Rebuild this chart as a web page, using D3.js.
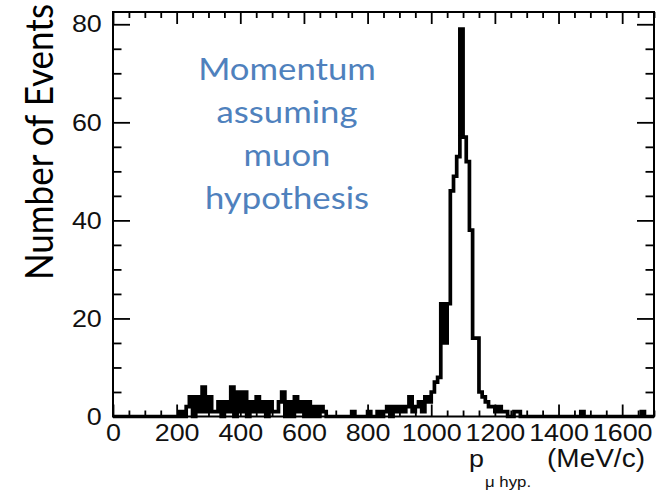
<!DOCTYPE html>
<html><head><meta charset="utf-8">
<script src="https://cdn.jsdelivr.net/npm/d3@7"></script>
<style>body{margin:0;background:#fff}</style>
</head><body>
<svg id="c" width="661" height="491"></svg>
<script>
// ---- data ----
const binWidth = 10; // MeV/c per bin
const binLowEdges = d3.range(0, 1700, binWidth);
const counts = [
  0,0,0,0,0,0,0,0,0,0,          // 0-90
  0,0,0,0,0,0,0,0,0,0,          // 100-190
  0,1,0,2,4,0,4,1,6,1,          // 200-290
  4,1,1,3,0,3,1,6,0,5,          // 300-390
  1,5,0,3,1,4,1,3,0,3,          // 400-490
  1,1,3,5,0,3,0,4,1,3,          // 500-590
  0,3,0,2,0,2,1,0,0,0,          // 600-690
  0,0,0,0,0,1,0,0,0,0,          // 700-790
  1,0,0,1,0,1,2,0,2,1,          // 800-890
  2,1,2,4,1,2,3,1,4,3,          // 900-990
  5,7,8,23,15,23,46,49,53,79,   // 1000-1090
  57,52,38,16,16,5,4,3,2,2,     // 1100-1190
  1,2,1,1,0,0,1,1,0,0,          // 1200-1290
  0,0,0,0,0,0,0,0,0,0,          // 1300-1390
  0,0,0,0,0,0,0,1,0,0,          // 1400-1490
  0,0,0,0,0,0,0,0,0,0,          // 1500-1590
  0,0,0,0,0,0,1,0,0,0           // 1600-1690
];
const xMajorTicks = [0,200,400,600,800,1000,1200,1400,1600];
const yMajorTicks = [0,20,40,60,80];
const yTitle = "Number of Events";
const annotationLines = ["Momentum","assuming","muon","hypothesis"];

// ---- layout ----
const svg = d3.select("#c");
const L = 113, R = 654, T = 12, B = 416.5;
const SX = 1.12; // horizontal stretch of the original picture
const x = d3.scaleLinear().domain([0,1700]).range([L,R]);
const y = d3.scaleLinear().domain([0,82.5]).range([B,T]);
const xMinor = d3.range(0,1701,50).filter(v => v % 200 !== 0);
const yMinor = d3.range(0,83,5).filter(v => v % 20 !== 0);
const tickFont = "'Liberation Sans', Arial, Helvetica, sans-serif";

function styleAxis(g){
  g.select(".domain").remove();
  g.selectAll(".tick line").attr("stroke","#000").attr("stroke-width",1.8);
}

// bottom axis
const gB = svg.append("g").attr("transform",`translate(0,${B})`)
  .call(d3.axisBottom(x).tickValues(xMajorTicks).tickSizeInner(-12).tickSizeOuter(0).tickPadding(7.5).tickFormat(d3.format("d")));
styleAxis(gB);
gB.selectAll("text").attr("font-family",tickFont).attr("font-size",24).attr("fill","#111")
  .attr("transform",`scale(${SX},1)`);
svg.append("g").attr("transform",`translate(0,${B})`)
  .call(d3.axisBottom(x).tickValues(xMinor).tickSizeInner(-6).tickSizeOuter(0).tickFormat("")).call(styleAxis);
// top axis
svg.append("g").attr("transform",`translate(0,${T})`)
  .call(d3.axisTop(x).tickValues(xMajorTicks).tickSizeInner(-12).tickSizeOuter(0).tickFormat("")).call(styleAxis);
svg.append("g").attr("transform",`translate(0,${T})`)
  .call(d3.axisTop(x).tickValues(xMinor).tickSizeInner(-6).tickSizeOuter(0).tickFormat("")).call(styleAxis);
// left axis
const gL = svg.append("g").attr("transform",`translate(${L},0)`)
  .call(d3.axisLeft(y).tickValues(yMajorTicks).tickSizeInner(-17).tickSizeOuter(0).tickPadding(10).tickFormat(d3.format("d")));
styleAxis(gL);
gL.selectAll("text").attr("font-family",tickFont).attr("font-size",24).attr("fill","#111")
  .attr("transform",`scale(${SX},1)`);
svg.append("g").attr("transform",`translate(${L},0)`)
  .call(d3.axisLeft(y).tickValues(yMinor).tickSizeInner(-8.5).tickSizeOuter(0).tickFormat("")).call(styleAxis);
// right axis
svg.append("g").attr("transform",`translate(${R},0)`)
  .call(d3.axisRight(y).tickValues(yMajorTicks).tickSizeInner(-17).tickSizeOuter(0).tickFormat("")).call(styleAxis);
svg.append("g").attr("transform",`translate(${R},0)`)
  .call(d3.axisRight(y).tickValues(yMinor).tickSizeInner(-8.5).tickSizeOuter(0).tickFormat("")).call(styleAxis);

// frame
svg.append("rect").attr("x",L).attr("y",T).attr("width",R-L).attr("height",B-T)
  .attr("fill","none").attr("stroke","#000").attr("stroke-width",2);

// histogram outline
let d = `M${x(0)},${y(0)}`;
binLowEdges.forEach((lo,i) => { d += `V${y(counts[i])}H${x(lo+binWidth)}`; });
d += `V${y(0)}`;
svg.append("path").attr("d",d).attr("fill","none").attr("stroke","#000")
  .attr("stroke-width",3.7).attr("stroke-linejoin","miter");

// x title
svg.append("text").attr("transform",`translate(469,467) scale(${SX},1)`)
  .attr("font-family",tickFont).attr("font-size",24).attr("fill","#111").text("p");
svg.append("text").attr("transform",`translate(485,487) scale(${SX},1)`)
  .attr("font-family",tickFont).attr("font-size",15).attr("fill","#111").text("\u03bc hyp.");
svg.append("text").attr("transform",`translate(547,467) scale(${SX},1)`)
  .attr("font-family",tickFont).attr("font-size",25).attr("fill","#111").text("(MeV/c)");

// y title
svg.append("text").attr("transform",`translate(53,142) scale(${SX},1) rotate(-90)`)
  .attr("text-anchor","middle").attr("font-family","Lato, 'Open Sans', sans-serif")
  .attr("font-size",35).attr("fill","#000").text(yTitle);

// annotation
const ann = svg.append("g").attr("font-family","Lato, 'Open Sans', sans-serif")
  .attr("font-size",31).attr("fill","#4F81BD").attr("text-anchor","middle");
annotationLines.forEach((t,i) => {
  ann.append("text").attr("transform",`translate(287,${80+i*43}) scale(${SX},1)`).text(t);
});
</script>
</body></html>
